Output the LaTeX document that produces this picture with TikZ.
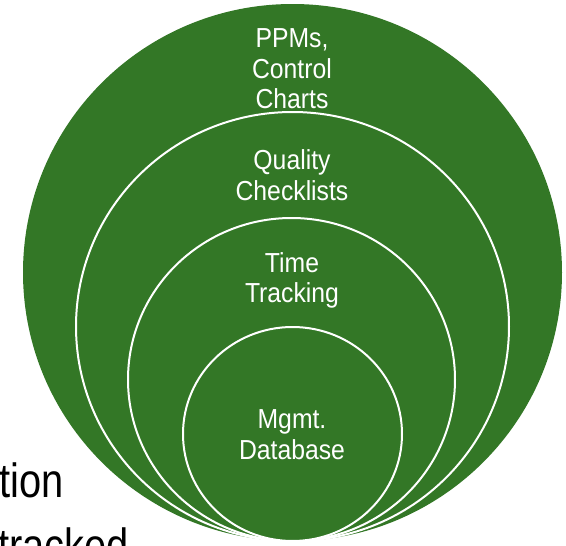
\documentclass[tikz,border=0pt]{standalone}
\usepackage{fontspec}
\setmainfont{Liberation Sans}
\newfontfamily\lblfont[FakeStretch=0.9]{Liberation Sans}
\newfontfamily\bgfont[FakeStretch=0.83]{Liberation Sans}
\definecolor{ringgreen}{RGB}{51,119,38}
\tikzset{
  outerdisc/.style={fill=ringgreen},
  ring/.style={fill=ringgreen, draw=white, line width=2pt},
  lbl/.style={text=white, font=\lblfont\fontsize{27.5}{30.5}\selectfont, align=center, inner sep=0pt},
  bgtext/.style={text=black, font=\bgfont\fontsize{48}{56}\selectfont, inner sep=0pt}
}
\begin{document}
\begin{tikzpicture}[x=1pt,y=-1pt]
\useasboundingbox (0,0) rectangle (566,546);
\clip (0,0) rectangle (566,546);
\node[bgtext, anchor=base west] (tion) at (-1,497) {tion};
\node[bgtext, anchor=base west] (tracked) at (-2,562) {tracked};
\fill[outerdisc] (292.5,272.5) ellipse [x radius=269.5pt, y radius=268.5pt];
\draw[ring] (292.5,326.5) ellipse [x radius=216.5pt, y radius=214.5pt];
\draw[ring] (291.5,379.5) ellipse [x radius=163.5pt, y radius=161.5pt];
\draw[ring] (292.5,434) ellipse [x radius=109.5pt, y radius=107pt];
\node[lbl] (ppm) at (292,69) {PPMs,\\Control\\Charts};
\node[lbl] (qual) at (292,175) {Quality\\Checklists};
\node[lbl] (time) at (292,280.5) {Time\\Tracking};
\node[lbl] (mgmt) at (292,434.5) {Mgmt.\\Database};
\end{tikzpicture}
\end{document}
